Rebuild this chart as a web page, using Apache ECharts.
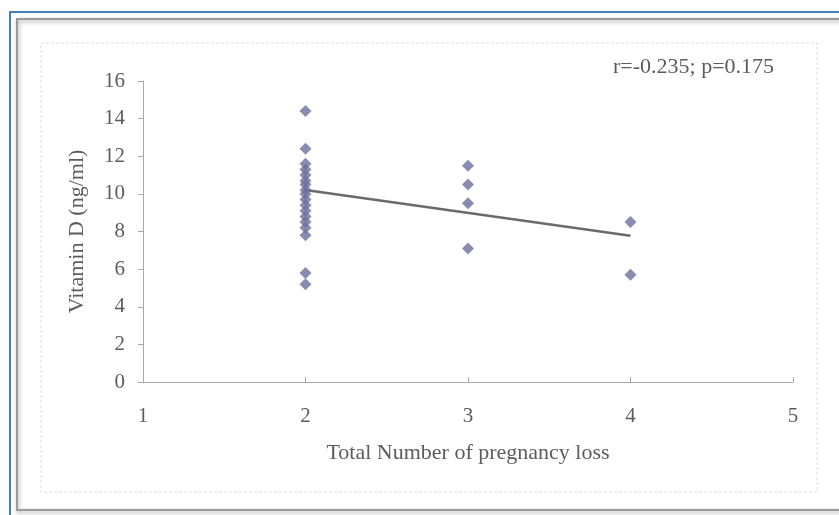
<!DOCTYPE html>
<html>
<head>
<meta charset="utf-8">
<script src="https://cdn.jsdelivr.net/npm/echarts@6/dist/echarts.min.js"></script>
<style>
  html, body { margin: 0; padding: 0; background: #fff; }
  #chart { width: 839px; height: 515px; }
</style>
</head>
<body>
<div id="chart"></div>
<script>
// pregnancy loss count for each point, and vitamin D value
const lossX = [2, 2, 2, 2, 2, 2, 2, 2, 2, 2, 2, 2, 2, 2, 2, 2, 2, 2, 3, 3, 3, 3, 4, 4];
const vitD = [14.4, 12.4, 11.6, 11.3, 11.0, 10.7, 10.5, 10.2, 10.0, 9.7, 9.4, 9.1, 8.8, 8.5, 8.2, 7.8, 5.8, 5.2,
  11.5, 10.5, 9.5, 7.1, 8.5, 5.7];
// linear trend line end points
const trendX = [2, 4];
const trendY = [10.2, 7.78];
const xTicks = [1, 2, 3, 4, 5];
const yTicks = [0, 2, 4, 6, 8, 10, 12, 14, 16];
const statText = "r=-0.235; p=0.175";

const chart = echarts.init(document.getElementById("chart"));
const font = "'Liberation Serif', 'DejaVu Serif', serif";
const textColor = "#5c5c5c";

chart.setOption({
  backgroundColor: "#fff",
  animation: false,
  grid: { left: 143, right: 46, top: 81, bottom: 133, containLabel: false },
  xAxis: {
    type: "value",
    min: xTicks[0],
    max: xTicks[xTicks.length - 1],
    interval: 1,
    name: "Total Number of pregnancy loss",
    nameLocation: "middle",
    nameGap: 60,
    nameTextStyle: { fontFamily: font, fontSize: 22, color: textColor },
    axisLine: { onZero: false, lineStyle: { color: "#a8a8b4", width: 1 } },
    axisTick: { inside: true, length: 5, lineStyle: { color: "#a8a8b4" } },
    axisLabel: { margin: 24, fontFamily: font, fontSize: 21, color: textColor },
    splitLine: { show: false },
  },
  yAxis: {
    type: "value",
    min: yTicks[0],
    max: yTicks[yTicks.length - 1],
    interval: 2,
    name: "Vitamin D (ng/ml)",
    nameLocation: "middle",
    nameGap: 55,
    nameTextStyle: { fontFamily: font, fontSize: 22, color: textColor },
    axisLine: { show: true, lineStyle: { color: "#a8a8b4", width: 1 } },
    axisTick: { show: true, length: 5, lineStyle: { color: "#a8a8b4" } },
    axisLabel: { margin: 18, fontFamily: font, fontSize: 21, color: textColor },
    splitLine: { show: false },
  },
  graphic: [
    {
      type: "rect",
      shape: { x: 10, y: 12, width: 840, height: 520 },
      style: { fill: "none", stroke: "#4a7ebb", lineWidth: 2 },
      silent: true,
    },
    {
      type: "rect",
      shape: { x: 17, y: 19, width: 840, height: 491 },
      style: {
        fill: "none", stroke: "#9a9a9a", lineWidth: 2,
        shadowBlur: 4, shadowColor: "rgba(0,0,0,0.35)", shadowOffsetX: 1, shadowOffsetY: 2,
      },
      silent: true,
    },
    {
      type: "rect",
      shape: { x: 41, y: 43, width: 776, height: 449 },
      style: { fill: "none", stroke: "#dcdce6", lineWidth: 1, lineDash: [3, 2] },
      silent: true,
    },
    {
      type: "text",
      left: 613,
      top: 56,
      style: { text: statText, fontFamily: font, fontSize: 22, fill: textColor },
      silent: true,
    },
  ],
  series: [
    {
      type: "scatter",
      symbol: "diamond",
      symbolSize: 12,
      itemStyle: { color: "#6b6f9e" },
      data: lossX.map((x, i) => [x, vitD[i]]),
      z: 3,
    },
    {
      type: "line",
      showSymbol: false,
      lineStyle: { color: "#6a6a6a", width: 2.5 },
      data: trendX.map((x, i) => [x, trendY[i]]),
      z: 2,
    },
  ],
});
</script>
</body>
</html>
